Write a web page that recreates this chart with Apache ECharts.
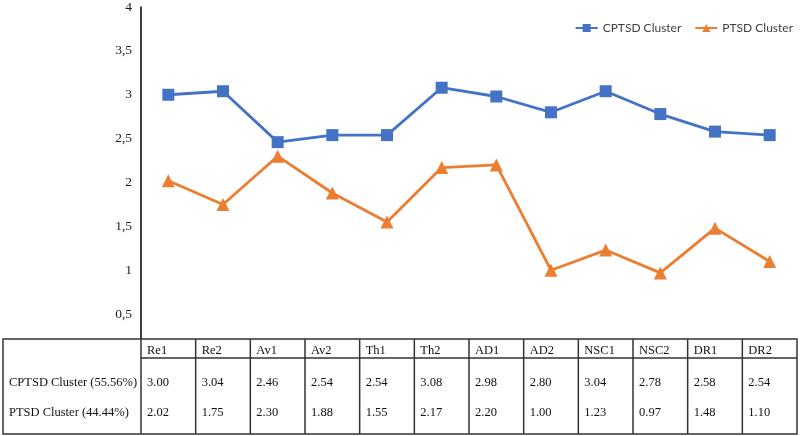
<!DOCTYPE html>
<html>
<head>
<meta charset="utf-8">
<script src="https://cdn.jsdelivr.net/npm/echarts@6/dist/echarts.min.js"></script>
<style>
  html, body { margin: 0; padding: 0; background: #fff; }
  #main { width: 800px; height: 436px; }
</style>
</head>
<body>
<div id="main"></div>
<script>
var categories = ['Re1', 'Re2', 'Av1', 'Av2', 'Th1', 'Th2', 'AD1', 'AD2', 'NSC1', 'NSC2', 'DR1', 'DR2'];
var cptsdValues = [3.00, 3.04, 2.46, 2.54, 2.54, 3.08, 2.98, 2.80, 3.04, 2.78, 2.58, 2.54];
var ptsdValues = [2.02, 1.75, 2.30, 1.88, 1.55, 2.17, 2.20, 1.00, 1.23, 0.97, 1.48, 1.10];
var seriesNames = ['CPTSD Cluster', 'PTSD Cluster'];
var rowLabels = ['CPTSD Cluster (55.56%)', 'PTSD Cluster (44.44%)'];

var myChart = echarts.init(document.getElementById('main'));

// table layout (pixels)
var gridLeft = 141, gridRight = 3;
var tableTop = 339, headBottom = 358, tableBottom = 434, tableLeft = 3;
var colW = (800 - gridLeft - gridRight) / categories.length;
var serif = 'Liberation Serif';
var tFont = '12.5px ' + serif;

function buildTable() {
  var els = [];
  // white cover under the axis
  els.push({ type: 'rect', shape: { x: 0, y: tableTop, width: 800, height: 436 - tableTop }, style: { fill: '#fff' }, z: 100 });
  var lineStyle = { stroke: '#333', lineWidth: 1.5 };
  // outer border
  els.push({ type: 'rect', shape: { x: tableLeft, y: tableTop, width: 800 - gridRight - tableLeft, height: tableBottom - tableTop },
    style: { fill: 'none', stroke: '#333', lineWidth: 1.5 }, z: 101 });
  // line under header
  els.push({ type: 'line', shape: { x1: gridLeft, y1: headBottom, x2: 800 - gridRight, y2: headBottom }, style: lineStyle, z: 101 });
  // vertical dividers and cell texts
  for (var i = 0; i < categories.length; i++) {
    var x = gridLeft + i * colW;
    els.push({ type: 'line', shape: { x1: x, y1: tableTop, x2: x, y2: tableBottom }, style: lineStyle, z: 101 });
    els.push({ type: 'text', x: x + 6, y: 351,
      style: { text: categories[i], font: tFont, fill: '#111', verticalAlign: 'middle' }, z: 102 });
    els.push({ type: 'text', x: x + 6, y: 383,
      style: { text: cptsdValues[i].toFixed(2), font: tFont, fill: '#111', verticalAlign: 'middle' }, z: 102 });
    els.push({ type: 'text', x: x + 6, y: 413,
      style: { text: ptsdValues[i].toFixed(2), font: tFont, fill: '#111', verticalAlign: 'middle' }, z: 102 });
  }
  els.push({ type: 'text', x: 9, y: 383, style: { text: rowLabels[0], font: tFont, fill: '#111', verticalAlign: 'middle' }, z: 102 });
  els.push({ type: 'text', x: 9, y: 413, style: { text: rowLabels[1], font: tFont, fill: '#111', verticalAlign: 'middle' }, z: 102 });
  return els;
}

var option = {
  animation: false,
  color: ['#4472C4', '#ED7D31'],
  legend: {
    data: seriesNames,
    top: 17,
    right: 2,
    itemWidth: 22,
    itemHeight: 10,
    itemGap: 13,
    textStyle: { fontFamily: 'Lato', fontSize: 12, color: '#404040' }
  },
  grid: { left: gridLeft, right: gridRight, top: 5, bottom: 78 },
  xAxis: {
    type: 'category',
    data: categories,
    boundaryGap: true,
    axisLine: { show: false },
    axisTick: { show: false },
    axisLabel: { show: false }
  },
  yAxis: {
    type: 'value',
    min: 0,
    max: 4,
    interval: 0.5,
    axisLine: { show: true, lineStyle: { color: '#000', width: 1.5 } },
    axisTick: { show: false },
    splitLine: { show: false },
    axisLabel: {
      margin: 9,
      fontFamily: serif,
      fontSize: 13.5,
      color: '#1a1a1a',
      formatter: function (v) { return v === 0 ? '' : String(v).replace('.', ','); }
    }
  },
  series: [{
    name: seriesNames[0],
    type: 'line',
    data: cptsdValues,
    symbol: 'rect',
    symbolSize: 12,
    lineStyle: { width: 2.8 }
  }, {
    name: seriesNames[1],
    type: 'line',
    data: ptsdValues,
    symbol: 'triangle',
    symbolSize: 13,
    lineStyle: { width: 2.8 }
  }],
  graphic: buildTable()
};

myChart.setOption(option);
</script>
</body>
</html>
